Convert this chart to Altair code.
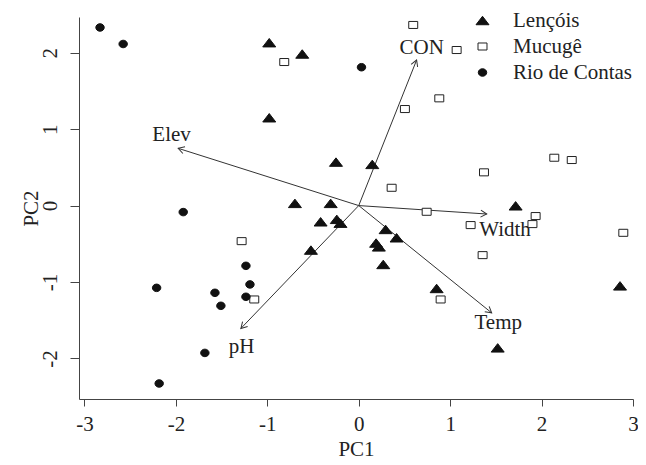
import altair as alt
import pandas as pd
import numpy as np

# ---------------- data ----------------
sites = ["Lençóis", "Mucugê", "Rio de Contas"]

len_pc1 = [-0.979, -0.618, -0.979, -0.249, 0.148, -0.698, -0.307, -0.417, -0.24, -0.20,
           -0.523, 0.294, 0.414, 0.19, 0.22, 0.268, 1.716, 0.852, 1.52, 2.858]
len_pc2 = [2.131, 1.983, 1.149, 0.569, 0.539, 0.029, 0.029, -0.212, -0.18, -0.23,
           -0.582, -0.312, -0.421, -0.49, -0.54, -0.77, -0.003, -1.084, -1.861, -1.05]

muc_pc1 = [0.596, 1.071, 0.881, 0.505, 2.139, 2.33, 1.37, 0.36, 0.743, 1.935,
           1.90, 1.224, 2.894, 1.355, 0.896, -0.815, -1.281, -1.143]
muc_pc2 = [2.363, 2.035, 1.403, 1.263, 0.626, 0.596, 0.435, 0.233, -0.081, -0.137,
           -0.242, -0.255, -0.356, -0.648, -1.228, 1.878, -0.465, -1.228]

rio_pc1 = [-2.83, -2.577, 0.03, -1.92, -2.211, -1.573, -1.508, -1.234, -1.19, -1.234,
           -1.683, -2.183]
rio_pc2 = [2.33, 2.114, 1.81, -0.085, -1.076, -1.141, -1.311, -0.788, -1.031, -1.193,
           -1.927, -2.327]

var_names = ["Elev", "CON", "Width", "Temp", "pH"]
var_pc1 = [-1.975, 0.633, 1.40, 1.454, -1.289]
var_pc2 = [0.749, 1.904, -0.11, -1.403, -1.607]
lab_pc1 = [-2.047, 0.688, 1.60, 1.526, -1.281]
lab_pc2 = [0.923, 2.066, -0.32, -1.534, -1.848]

x_ticks = [-3, -2, -1, 0, 1, 2, 3]
y_ticks = [-2, -1, 0, 1, 2]

# ---------------- layout ----------------
W, H = 554, 382
x_dom = [-3.06, 3.0]
y_dom = [-2.53, 2.467]
FONT = "Liberation Serif"

pts = pd.DataFrame({
    "PC1": len_pc1 + muc_pc1 + rio_pc1,
    "PC2": len_pc2 + muc_pc2 + rio_pc2,
    "site": [sites[0]] * len(len_pc1) + [sites[1]] * len(muc_pc1) + [sites[2]] * len(rio_pc1),
})

# arrow directions in screen space for the arrowheads
kx = W / (x_dom[1] - x_dom[0])
ky = H / (y_dom[1] - y_dom[0])
ang = [float(np.degrees(np.arctan2(a * kx, b * ky)) % 360) for a, b in zip(var_pc1, var_pc2)]
arrows = pd.DataFrame({"PC1": var_pc1, "PC2": var_pc2, "x0": 0.0, "y0": 0.0,
                       "name": var_names, "ang": ang})
labels = pd.DataFrame({"PC1": lab_pc1, "PC2": lab_pc2, "name": var_names})

x_scale = alt.Scale(domain=x_dom, nice=False, zero=False)
y_scale = alt.Scale(domain=y_dom, nice=False, zero=False)

x_axis = alt.Axis(title="PC1", values=x_ticks, labelExpr="'' + datum.value",
                  tickSize=7, labelPadding=24, labelBaseline="alphabetic",
                  labelFontSize=21, titleFontSize=21, titleFontWeight="normal",
                  titleX=W / 2, titleY=56, titleBaseline="alphabetic", titleAlign="center",
                  labelFlush=False, labelOverlap=False)
y_axis = alt.Axis(title="PC2", values=y_ticks, labelExpr="'' + datum.value",
                  tickSize=9, labelPadding=14, labelAngle=270, labelAlign="center",
                  labelBaseline="alphabetic", labelFontSize=21, titleFontSize=21,
                  titleFontWeight="normal", titleAngle=270, titleX=-42, titleY=H / 2,
                  titleBaseline="alphabetic", titleAlign="center",
                  labelFlush=False, labelOverlap=False)

X = alt.X("PC1:Q", scale=x_scale, axis=x_axis)
Y = alt.Y("PC2:Q", scale=y_scale, axis=y_axis)

tri = "M0,-0.65L1,0.65L-1,0.65Z"
sq = "M-0.69,-0.54L0.69,-0.54L0.69,0.54L-0.69,0.54Z"
dot = "M-0.65,0A0.65,0.58,0,1,1,0.65,0A0.65,0.58,0,1,1,-0.65,0Z"

leg = alt.Legend(title=None, orient="none", legendX=393, legendY=-7,
                 labelFont=FONT, labelFontSize=21, labelColor="#222",
                 symbolSize=169, rowPadding=4, labelOffset=20, padding=0,
                 symbolStrokeWidth=1, symbolOpacity=1)

points = alt.Chart(pts).mark_point(size=169, opacity=1, strokeWidth=1).encode(
    x=X, y=Y,
    shape=alt.Shape("site:N", scale=alt.Scale(domain=sites, range=[tri, sq, dot]), legend=leg),
    fill=alt.Fill("site:N", scale=alt.Scale(domain=sites, range=["#111111", "#ffffff", "#111111"]), legend=leg),
    stroke=alt.Stroke("site:N", scale=alt.Scale(domain=sites, range=["#111111", "#222222", "#111111"]), legend=leg),
)

shafts = alt.Chart(arrows).mark_rule(color="#333333", strokeWidth=1).encode(
    x=X, y=Y, x2=alt.X2("x0:Q"), y2=alt.Y2("y0:Q"))

heads = alt.Chart(arrows).mark_point(
    shape="M-0.5,0.866L0,0L0.5,0.866", size=196, filled=False, opacity=1,
    color="#333333", strokeWidth=1
).encode(x=X, y=Y, angle=alt.Angle("ang:Q", scale=None))

texts = alt.Chart(labels).mark_text(font=FONT, fontSize=21, color="#222222",
                                    align="center", baseline="middle").encode(
    x=X, y=Y, text="name:N")

chart = alt.layer(shafts, heads, texts, points).properties(
    width=W, height=H,
    autosize=alt.AutoSizeParams(type="none"),
    padding={"left": 71, "top": 9, "right": 5, "bottom": 66},
    background="white",
).configure_view(stroke=None).configure_axis(
    grid=False, domainColor="#444444", tickColor="#444444", domainWidth=1, tickWidth=1,
    labelColor="#222222", titleColor="#222222", labelFont=FONT, titleFont=FONT,
)

chart.save("out.html", embed_options={"renderer": "svg", "actions": False})
